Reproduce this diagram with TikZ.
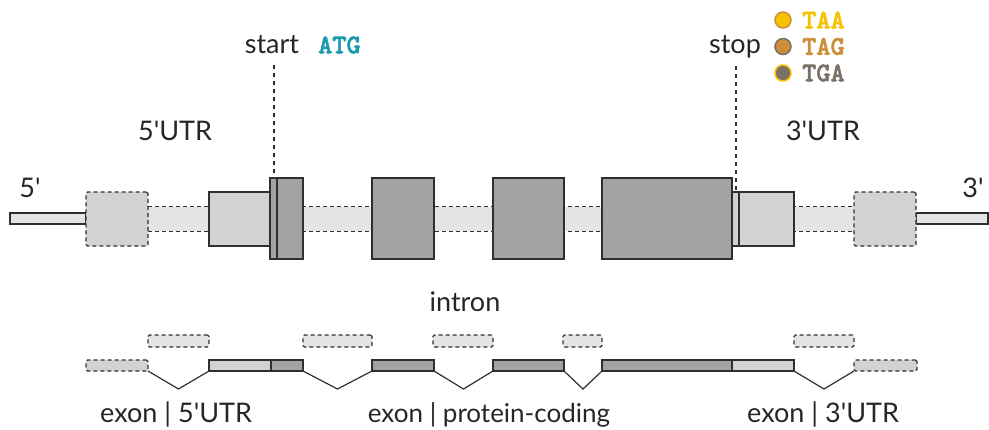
\documentclass[tikz,border=0pt]{standalone}
\usepackage{fontspec}
\setmainfont{Lato}[Ligatures=TeXOff]
\newfontfamily\codefont{lmmonolt10-bold}[Extension=.otf, FakeBold=2]
\usetikzlibrary{fit}
\definecolor{ink}{HTML}{2E302E}
\definecolor{txt}{HTML}{262626}
\definecolor{cds}{HTML}{A3A3A3}
\definecolor{utr}{HTML}{D2D2D2}
\definecolor{intr}{HTML}{E5E3E5}
\definecolor{atg}{HTML}{1B9AAE}
\definecolor{taa}{HTML}{F7C100}
\definecolor{tag}{HTML}{CD8E3A}
\definecolor{tga}{HTML}{7B7266}
\tikzset{
  box/.style={draw=ink, line width=1.2pt, inner sep=0pt, outer sep=0pt},
  dbox/.style={box, dash pattern=on 4pt off 3pt, rounded corners=1.5pt},
  dline/.style={draw=ink, line width=1.2pt, dash pattern=on 4pt off 3pt},
  lbl/.style={font=\fontsize{27}{32}\selectfont, text=txt, inner sep=0pt},
  code/.style={font=\codefont\fontsize{27}{30}\selectfont, inner sep=0pt, anchor=west},
  guide/.style={draw=ink, line width=2pt, dash pattern=on 4pt off 4pt},
  dot/.style={circle, minimum size=16pt, inner sep=0pt, line width=1.5pt},
  splice/.style={draw=ink, line width=1.2pt}
}
\begin{document}
\begin{tikzpicture}[x=1pt, y=-1pt]
\useasboundingbox (0,0) rectangle (989,429);

% ---- gene model ----
\node[fit={(10,213) (86,224)}, box, fill=intr] (endL) {};
\node[fit={(916,213) (988,224)}, box, fill=intr] (endR) {};
\node[fit={(148,207) (854,231)}, inner sep=0pt, fill=intr] (band) {};
\draw[dline] (band.north west) -- (band.north east);
\draw[dline] (band.south west) -- (band.south east);

\node[fit={(86,192) (148,246)}, dbox, fill=utr] (uA) {};
\node[fit={(854,192) (916,246)}, dbox, fill=utr] (uB) {};
\node[fit={(209,192) (270,246)}, box, fill=utr] (u5) {};
\node[fit={(270,178) (277,259)}, box, fill=cds] (sc) {};
\node[fit={(277,178) (303,259)}, box, fill=cds] (e1) {};
\node[fit={(372,178) (434,259)}, box, fill=cds] (e2) {};
\node[fit={(493,178) (564,259)}, box, fill=cds] (e3) {};
\node[fit={(602,178) (732,259)}, box, fill=cds] (e4) {};
\node[fit={(732,192) (739,246)}, box, fill=utr] (ec) {};
\node[fit={(739,192) (794,246)}, box, fill=utr] (u3) {};

% ---- labels of the gene model ----
\node[lbl] (p5) at (30,188) {5'};
\node[lbl] (p3) at (973,188) {3'};
\node[lbl, anchor=west] (l5) at (138,131) {5'UTR};
\node[lbl] (l3) at (823,131) {3'UTR};
\node[lbl] (startlbl) at (272,45) {start};
\node[code, text=atg] (atg) at (318,45) {ATG};
\node[lbl] (stoplbl) at (735,47) {stop};

\coordinate (startTop) at (273.5,65);
\coordinate (stopTop) at (735.5,66);
\draw[guide] (startTop) -- (sc.north);
\draw[guide] (stopTop) -- (ec.north);

% ---- stop codons ----
\node[dot, fill=taa, draw=tag] (cTAA) at (783,20) {};
\node[dot, fill=tag, draw=tga] (cTAG) at (783,46.5) {};
\node[dot, fill=tga, draw=taa] (cTGA) at (783,73) {};
\node[code, text=taa] (tTAA) at (802,20) {TAA};
\node[code, text=tag] (tTAG) at (802,46.5) {TAG};
\node[code, text=tga] (tTGA) at (802,73) {TGA};

% ---- spliced transcript ----
\node[fit={(148,335) (209,347)}, dbox, fill=intr] (i1) {};
\node[fit={(303,335) (372,347)}, dbox, fill=intr] (i2) {};
\node[fit={(433,335) (493,347)}, dbox, fill=intr] (i3) {};
\node[fit={(563,335) (602,347)}, dbox, fill=intr] (i4) {};
\node[fit={(794,335) (854,347)}, dbox, fill=intr] (i5) {};

\node[fit={(86,360) (148,371)}, dbox, fill=utr] (lA) {};
\node[fit={(854,360) (917,371)}, dbox, fill=utr] (lB) {};
\node[fit={(209,360) (271,371)}, box, fill=utr] (b5) {};
\node[fit={(271,360) (303,371)}, box, fill=cds] (bd1) {};
\node[fit={(372,360) (434,371)}, box, fill=cds] (bd2) {};
\node[fit={(493,360) (564,371)}, box, fill=cds] (bd3) {};
\node[fit={(602,360) (732,371)}, box, fill=cds] (bd4) {};
\node[fit={(732,360) (794,371)}, box, fill=utr] (b3) {};

\coordinate (v1) at (178.5,389);
\coordinate (v2) at (337.5,389);
\coordinate (v3) at (463.5,389);
\coordinate (v4) at (583,389);
\coordinate (v5) at (824,389);
\draw[splice] (lA.south east) -- (v1) -- (b5.south west);
\draw[splice] (bd1.south east) -- (v2) -- (bd2.south west);
\draw[splice] (bd2.south east) -- (v3) -- (bd3.south west);
\draw[splice] (bd3.south east) -- (v4) -- (bd4.south west);
\draw[splice] (b3.south east) -- (v5) -- (lB.south west);

\node[lbl] (lint) at (465,302) {intron};
\node[lbl, anchor=west] (x5) at (100,415) {exon | 5'UTR};
\node[lbl, font=\fontsize{26}{31}\selectfont] (xc) at (489,415) {exon | protein-coding};
\node[lbl, anchor=west] (x3) at (747,415) {exon | 3'UTR};
\end{tikzpicture}
\end{document}
